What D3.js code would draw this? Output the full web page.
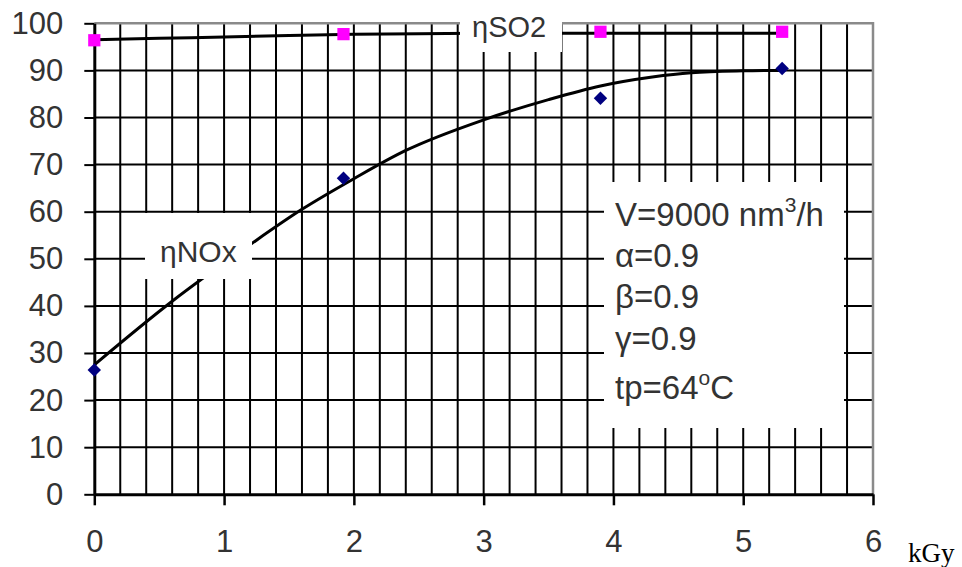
<!DOCTYPE html>
<html lang="en">
<head>
<meta charset="UTF-8">
<title>NOx and SO2 removal efficiency vs dose</title>
<script src="https://d3js.org/d3.v7.min.js"></script>
<style>
  body { margin: 0; background: #fff; }
  svg text { font-family: "Liberation Sans", Arial, sans-serif; fill: #333; }
  .axis path, .axis line { stroke: #000; }
  .grid line { stroke: #000; stroke-width: 2; }
  .border { stroke: #8a8a8a; stroke-width: 2.5; fill: none; }
  .trend { fill: none; stroke: #000; stroke-width: 3; }
</style>
</head>
<body>
<svg id="chart" width="962" height="567"></svg>
<script>
// measured points (dose in kGy, efficiency in %)
const doses = [0, 1.92, 3.9, 5.3];
const so2Values = [96.4, 97.7, 98.2, 98.2];
const noxValues = [26.4, 67.1, 84.1, 90.4];

// trendlines
const so2TrendX = [0, 0.5, 1.0, 1.5, 2.0, 2.5, 3.0, 4.0, 5.3];
const so2TrendY = [96.5, 96.8, 97.1, 97.4, 97.65, 97.8, 97.9, 97.9, 97.9];
const noxTrendX = [0, 0.6, 1.2, 1.6, 2.0, 2.4, 3.0, 3.5, 3.9, 4.3, 4.6, 5.0, 5.3];
const noxTrendY = [27.5, 41, 53, 60.5, 67, 73, 79.5, 83.8, 86.7, 88.6, 89.5, 89.9, 90];

const xTicks = [0, 1, 2, 3, 4, 5, 6];
const yTicks = [0, 10, 20, 30, 40, 50, 60, 70, 80, 90, 100];

// parameter box: [text, superscript, text]
const params = [
  ["V=9000 nm", "3", "/h"],
  ["\u03b1=0.9"],
  ["\u03b2=0.9"],
  ["\u03b3=0.9"],
  ["tp=64", "o", "C"]
];

const svg = d3.select("#chart");
svg.append("rect").attr("width", 962).attr("height", 567).attr("fill", "#fff");

const x = d3.scaleLinear().domain([0, 6]).range([94.3, 873]);
const y = d3.scaleLinear().domain([0, 100]).range([494.3, 23.3]);

// grid
const minor = d3.range(1, 30).map(i => i * 0.2);
svg.append("g").attr("class", "grid")
  .selectAll("line").data(minor).enter().append("line")
  .attr("x1", d => x(d)).attr("x2", d => x(d))
  .attr("y1", y(0)).attr("y2", y(100));
svg.append("g").attr("class", "grid")
  .selectAll("line").data(yTicks.slice(1, -1)).enter().append("line")
  .attr("x1", x(0)).attr("x2", x(6))
  .attr("y1", d => y(d)).attr("y2", d => y(d));

// top and right border
svg.append("path").attr("class", "border")
  .attr("d", `M${x(0)},${y(100)}H${x(6)}V${y(0)}`);

// axes
const yAxis = svg.append("g").attr("class", "axis")
  .attr("transform", `translate(${x(0)},0)`)
  .call(d3.axisLeft(y).tickValues(yTicks).tickSize(10).tickSizeOuter(0).tickPadding(21));
yAxis.select(".domain").attr("stroke-width", 3);
yAxis.selectAll("line").attr("stroke-width", 2);
yAxis.selectAll("text").attr("font-size", 31).attr("fill", "#333")
  .attr("font-family", "Liberation Sans, Arial, sans-serif");

const xAxis = svg.append("g").attr("class", "axis")
  .attr("transform", `translate(0,${y(0)})`)
  .call(d3.axisBottom(x).tickValues(xTicks).tickFormat(d3.format("d"))
    .tickSize(11).tickSizeOuter(0).tickPadding(25));
xAxis.select(".domain").attr("stroke-width", 3);
xAxis.selectAll("line").attr("stroke-width", 2.5);
xAxis.selectAll("text").attr("font-size", 31).attr("fill", "#333")
  .attr("font-family", "Liberation Sans, Arial, sans-serif");

svg.append("text").attr("x", 908).attr("y", 562)
  .attr("font-size", 27).style("font-family", "'Liberation Serif', 'Times New Roman', serif")
  .style("fill", "#000").text("kGy");

// trendlines
const line = d3.line().x(d => x(d[0])).y(d => y(d[1])).curve(d3.curveMonotoneX);
svg.append("path").attr("class", "trend").attr("d", line(d3.zip(so2TrendX, so2TrendY)));
svg.append("path").attr("class", "trend").attr("d", line(d3.zip(noxTrendX, noxTrendY)));

// markers
svg.append("g").selectAll("path").data(d3.zip(doses, so2Values)).enter().append("path")
  .attr("d", d3.symbol(d3.symbolSquare, 150))
  .attr("transform", d => `translate(${x(d[0])},${y(d[1])})`)
  .attr("fill", "#ff00ff");
svg.append("g").selectAll("path").data(d3.zip(doses, noxValues)).enter().append("path")
  .attr("d", d3.symbol(d3.symbolSquare, 90))
  .attr("transform", d => `translate(${x(d[0])},${y(d[1])}) rotate(45)`)
  .attr("fill", "#000080");

// label boxes
function labelBox(bx, by, bw, bh) {
  svg.append("rect").attr("x", bx).attr("y", by).attr("width", bw).attr("height", bh).attr("fill", "#fff");
}

labelBox(460, 0, 102, 52);
svg.append("text").attr("x", 472).attr("y", 37).attr("font-size", 29).text("\u03b7SO2");

labelBox(145, 213, 107, 66);
svg.append("text").attr("x", 160).attr("y", 262).attr("font-size", 30).text("\u03b7NOx");

labelBox(604, 182, 240, 246);
const rowY = [226, 267, 308, 350, 399];
params.forEach((p, i) => {
  const t = svg.append("text").attr("x", 615).attr("y", rowY[i]).attr("font-size", 33);
  t.append("tspan").text(p[0]);
  if (p.length > 1) {
    t.append("tspan").attr("font-size", 21).attr("dy", -14).text(p[1]);
    t.append("tspan").attr("dy", 14).text(p[2]);
  }
});
</script>
</body>
</html>
